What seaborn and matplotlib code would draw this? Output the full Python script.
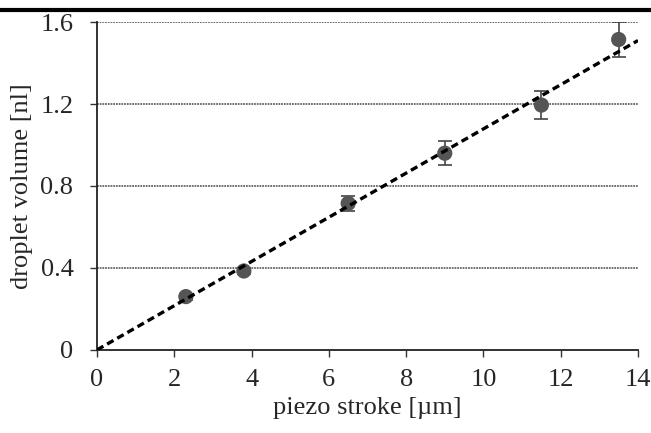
import matplotlib
matplotlib.use("Agg")
import matplotlib.pyplot as plt
import seaborn as sns
import pandas as pd
from matplotlib.lines import Line2D

stroke = [2.3, 3.8, 6.5, 9.0, 11.5, 13.5]
volume = [0.26, 0.385, 0.715, 0.96, 1.195, 1.515]
err = [0.015, 0.015, 0.035, 0.058, 0.068, 0.087]
fit_x = [0, 14]
fit_y = [0, 1.51]
yticks = [0, 0.4, 0.8, 1.2, 1.6]
xticks = [0, 2, 4, 6, 8, 10, 12, 14]

sns.set_style("white")
plt.rcParams['font.family'] = ['Liberation Serif', 'DejaVu Serif']

fig = plt.figure(figsize=(6.51, 4.33), dpi=100)
ax = fig.add_axes([0.149, 0.192, 0.831, 0.757])

df = pd.DataFrame({"x": stroke, "y": volume})
fit = pd.DataFrame({"x": fit_x, "y": fit_y})

for yv in yticks[1:]:
    ax.axhline(yv, color="#666666", lw=1.3, ls=(0, (1, 0.5)), zorder=1)

ax.errorbar(stroke, volume, yerr=err, fmt="none", ecolor="#444444",
            elinewidth=1.2, capsize=5, capthick=1.2, zorder=2)
sns.lineplot(data=fit, x="x", y="y", ax=ax, color="black", lw=2.4,
             linestyle=(0, (2.2, 1.3)), zorder=4)
sns.scatterplot(data=df, x="x", y="y", ax=ax, color="#555555", s=120,
                edgecolor="none", zorder=3)

ax.set_xlim(0, 14)
ax.set_ylim(0, 1.6)
ax.set_xticks(xticks)
ax.set_yticks(yticks)
ax.set_xticklabels([str(v) for v in xticks])
ax.set_yticklabels(["0", "0.4", "0.8", "1.2", "1.6"])
ax.tick_params(axis="both", labelsize=19, length=5, width=1, color="#333333",
               direction="out", bottom=True, left=True)
ax.tick_params(axis="x", pad=9)
ax.tick_params(axis="y", pad=12)
for s in ["top", "right"]:
    ax.spines[s].set_visible(False)
for s in ["left", "bottom"]:
    ax.spines[s].set_color("#222222")
    ax.spines[s].set_linewidth(1.3)

ax.set_xlabel("piezo stroke [µm]", fontsize=19, labelpad=4)
ax.set_ylabel("droplet volume [nl]", fontsize=19, labelpad=5)

fig.add_artist(Line2D([0, 1], [0.978, 0.978], transform=fig.transFigure,
                      color="black", lw=3))

fig.savefig("out.png", dpi=100)
